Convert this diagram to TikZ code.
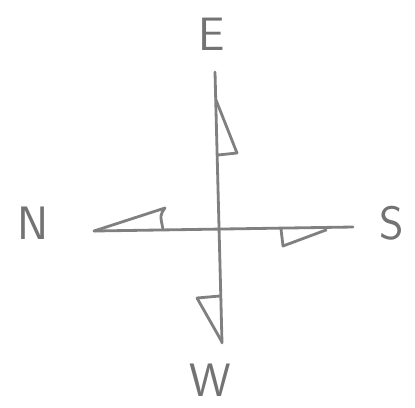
\documentclass[tikz,border=0pt]{standalone}
\usetikzlibrary{positioning}

\begin{document}
\begin{tikzpicture}[x=0.03cm, y=-0.03cm,
    pencil/.style={draw=black!50, line width=2.4pt, line cap=round, line join=round},
    dirlabel/.style={text=black!55, font=\sffamily\fontsize{40}{40}\selectfont, inner sep=0pt}]
        \useasboundingbox (0,0) rectangle (415,407);
        % arms of the cross
        \coordinate (top) at (215,72);
        \coordinate (bot) at (222,343);
        \coordinate (lft) at (94,231);
        \coordinate (rgt) at (353,227);
        \node[dirlabel] (E) at (212,34) {E};
        \node[dirlabel] (W) at (210,380) {W};
        \node[dirlabel] (N) at (33,223) {N};
        \node[dirlabel] (S) at (392,223) {S};
        \draw[pencil] (top) -- (bot);
        \draw[pencil] (lft) -- (rgt);
        % flags
        \draw[pencil] (216,100) -- (237,153) -- (218,155);
        \draw[pencil] (220,296) -- (197,298) -- (222,342);
        \draw[pencil] (lft) -- (165,208) .. controls (160,215) .. (163,229);
        \draw[pencil] (281,229) -- (283,246) -- (326,230);
     \end{tikzpicture}
\end{document}
